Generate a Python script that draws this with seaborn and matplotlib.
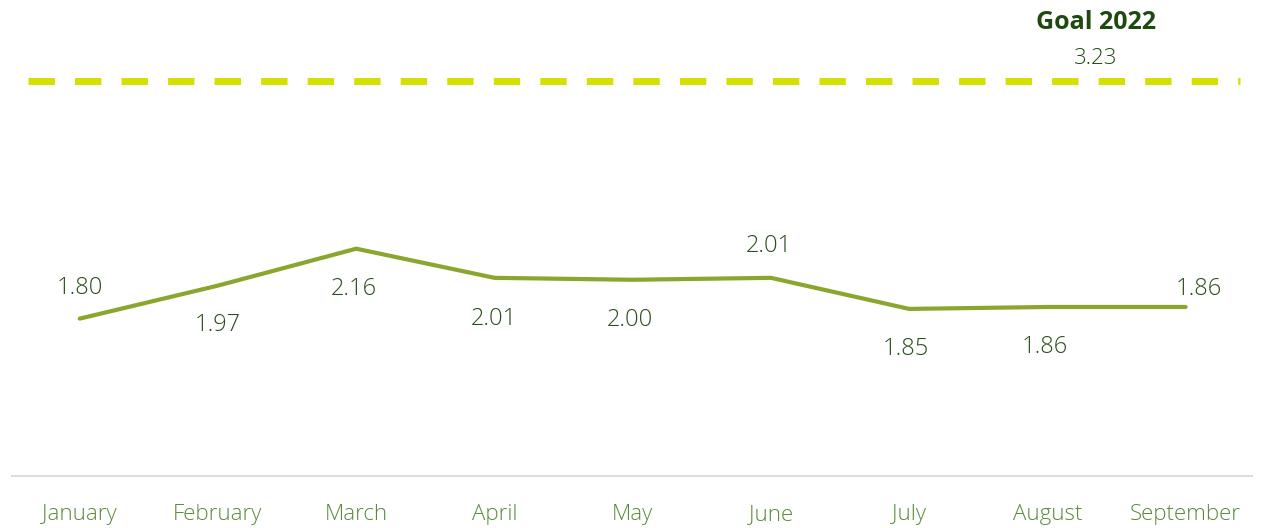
import matplotlib
matplotlib.use("Agg")
import matplotlib.pyplot as plt
import seaborn as sns
import pandas as pd

months = ["January", "February", "March", "April", "May", "June", "July", "August", "September"]
values = [1.80, 1.97, 2.16, 2.01, 2.00, 2.01, 1.85, 1.86, 1.86]
goal_value = 3.23
goal_label = "Goal 2022"

# label placement (pixels, positive = above)
label_dy = [31, -39, -40, -41, -40, 32, -40, -40, 18]
label_dx = [0, 0, -2, -1, -3, -2, -3, -3, 13]

sns.set_theme(style="white")
plt.rcParams['font.family'] = ['Open Sans', 'DejaVu Sans']

fig = plt.figure(figsize=(12.72, 5.28), dpi=100)
ax = fig.add_axes([12/1272, 52/528, 1240/1272, 476/528])

df = pd.DataFrame({"month": months, "value": values})
df["x"] = range(len(months))
sns.lineplot(data=df, x="x", y="value", ax=ax, color="#8BA62D", linewidth=3.0,
             solid_capstyle="round", solid_joinstyle="miter")

ax.set_xlim(-0.49, 8.48)
ax.set_ylim(0.99, 3.44)

for i, v in enumerate(values):
    ax.annotate(f"{v:.2f}", (i, v), xytext=(label_dx[i]*0.72, label_dy[i]*0.72),
                textcoords="offset points", ha="center", va="center",
                fontsize=17, fontweight="light", color="#2A4E1B")

ax.set_xticks(range(len(months)))
ax.set_xticklabels(months, fontsize=16, fontweight="light", color="#5A8A3A")
ax.tick_params(axis="x", length=0, pad=20)
ax.set_yticks([])
ax.set_xlabel("")
ax.set_ylabel("")
for s in ["top", "left", "right"]:
    ax.spines[s].set_visible(False)
ax.spines["bottom"].set_color("#DCDCDC")
ax.spines["bottom"].set_linewidth(1.5)

# goal line on its own scale
ax2 = ax.twinx()
ax2.set_ylim(0, goal_value * 476 / 395)
ax2.set_xlim(ax.get_xlim())
ax2.hlines(goal_value, -0.376, 8.39, colors="#D4E000", linewidth=5,
           linestyles=(0, (3.8, 2.9)), capstyle="butt")
ax2.annotate(f"{goal_value:.2f}", (7.35, goal_value), xytext=(0, 16),
             textcoords="offset points", ha="center", va="center",
             fontsize=16, fontweight="light", color="#1E4A10")
ax2.annotate(goal_label, (7.35, goal_value), xytext=(0, 42),
             textcoords="offset points", ha="center", va="center",
             fontsize=18, fontweight="bold", color="#1E4A10")
ax2.set_yticks([])
for s in ["top", "left", "right", "bottom"]:
    ax2.spines[s].set_visible(False)

fig.savefig("out.png", dpi=100, facecolor="white")
